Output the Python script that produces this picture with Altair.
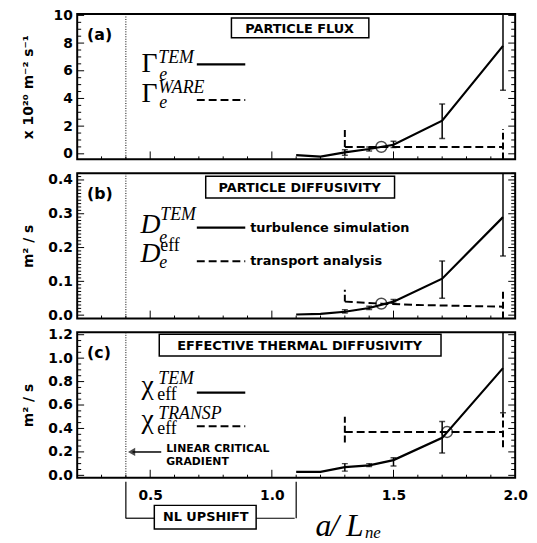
import altair as alt
import pandas as pd

FONT = "DejaVu Sans"
SERIF = "Liberation Serif"
W, H = 443, 147

# ---------------- data ----------------
grad = [1.1, 1.2, 1.3, 1.4, 1.5, 1.7, 1.95]
linear_critical = 0.4
nl_threshold = 1.1

# (a) particle flux, x 1e20 m^-2 s^-1
flux_tem = [-0.1, -0.2, 0.1, 0.35, 0.65, 2.4, 7.8]
flux_err_x = [1.3, 1.4, 1.5, 1.7, 1.95]
flux_err_lo = [-0.1, 0.2, 0.45, 1.1, 4.6]
flux_err_hi = [0.3, 0.5, 0.9, 3.6, 12.0]
flux_ware_x = [1.3, 1.95]
flux_ware = [0.5, 0.5]
flux_bar_x = [1.3, 1.95]
flux_bar_lo = [0.5, -0.4]
flux_bar_hi = [1.8, 1.8]
flux_match = [1.45, 0.5]

# (b) particle diffusivity, m^2/s
diff_tem = [0.002, 0.004, 0.01, 0.021, 0.04, 0.108, 0.29]
diff_err_x = [1.3, 1.4, 1.5, 1.7, 1.95]
diff_err_lo = [0.006, 0.017, 0.035, 0.05, 0.175]
diff_err_hi = [0.016, 0.026, 0.046, 0.16, 0.5]
diff_eff_x = [1.3, 1.45, 1.6, 1.95]
diff_eff = [0.040, 0.034, 0.030, 0.025]
diff_bar_x = [1.3, 1.95]
diff_bar_lo = [0.040, -0.01]
diff_bar_hi = [0.075, 0.075]
diff_match = [1.45, 0.034]

# (c) effective thermal diffusivity, m^2/s
chi_tem = [0.03, 0.03, 0.07, 0.085, 0.13, 0.32, 0.915]
chi_err_x = [1.3, 1.4, 1.5, 1.7, 1.95]
chi_err_lo = [0.036, 0.075, 0.08, 0.19, 0.535]
chi_err_hi = [0.10, 0.10, 0.15, 0.46, 1.5]
chi_transp_x = [1.3, 1.95]
chi_transp = [0.37, 0.37]
chi_bar_x = [1.3, 1.95]
chi_bar_lo = [0.28, 0.24]
chi_bar_hi = [0.50, 0.53]
chi_match = [1.72, 0.37]

x_labels = [0.5, 1.0, 1.5, 2.0]

XS = alt.Scale(domain=[0.2, 2.0], nice=False, zero=False)
ONE = alt.Data(values=[{}])


def txt(s, x, y, size=13, font=FONT, weight="bold", style="normal",
        align="left", baseline="middle"):
    return alt.Chart(ONE).mark_text(
        text=s, fontSize=size, font=font, fontWeight=weight, fontStyle=style,
        align=align, baseline=baseline, color="black"
    ).encode(x=alt.value(x), y=alt.value(y))


def math(s, x, y, size=18, italic=True):
    return txt(s, x, y, size=size, font=SERIF, weight="normal",
               style="italic" if italic else "normal", baseline="alphabetic")


def prule(x, y, x2=None, y2=None, dash=None, width=1.5):
    enc = dict(x=x if not isinstance(x, (int, float)) else alt.value(x),
               y=alt.value(y))
    if x2 is not None:
        enc["x2"] = alt.value(x2)
    if y2 is not None:
        enc["y2"] = alt.value(y2)
    kw = dict(color="black", strokeWidth=width)
    if dash:
        kw["strokeDash"] = dash
    return alt.Chart(ONE).mark_rule(**kw).encode(**enc)


def box(x, x2, y, y2):
    return alt.Chart(ONE).mark_rect(
        fill="white", stroke="black", strokeWidth=1.5
    ).encode(x=alt.value(x), x2=alt.value(x2), y=alt.value(y), y2=alt.value(y2))


def make_xaxis(show):
    if show:
        return alt.Axis(values=x_labels, format=".1f", ticks=False,
                        domain=False, grid=False, labelFlush=False,
                        labelFont=FONT, labelFontSize=14,
                        labelFontWeight="bold", labelColor="black",
                        labelPadding=11, title=None)
    return None


def panel(line_y, ex, elo, ehi, tx, ty, bx, blo, bhi, match, ydom, yvals,
          yfmt, ytitle, minor_step, major_step, show_x, extras):
    ys = alt.Scale(domain=ydom, nice=False, zero=False)
    yaxis = alt.Axis(values=yvals, format=yfmt, ticks=False, domain=False,
                     grid=False, labelFont=FONT, labelFontSize=14,
                     labelFontWeight="bold", labelColor="black", labelPadding=5,
                     title=ytitle, titleFont=FONT, titleFontSize=14,
                     titleFontWeight="bold", titleColor="black",
                     titlePadding=8, minExtent=34, maxExtent=34)
    xaxis = make_xaxis(show_x)

    def X(f):
        return alt.X(f, scale=XS, axis=xaxis)

    def Y(f):
        return alt.Y(f, scale=ys, axis=yaxis)

    layers = []
    layers.append(alt.Chart(pd.DataFrame({"x": grad, "y": line_y})).mark_line(
        color="black", strokeWidth=2.2, clip=True
    ).encode(x=X("x:Q"), y=Y("y:Q")))

    layers.append(alt.Chart(pd.DataFrame({"x": [linear_critical]})).mark_rule(
        color="black", strokeWidth=1, strokeDash=[1, 1.5]
    ).encode(x=X("x:Q"), y=alt.value(0), y2=alt.value(H)))

    n_min = int(round(ydom[1] / minor_step))
    yt = [round(i * minor_step, 6) for i in range(0, n_min + 1)
          if i * minor_step <= ydom[1] + 1e-9]
    maj = [abs((v / major_step) - round(v / major_step)) < 1e-6 for v in yt]
    ytmin = pd.DataFrame({"y": [v for v, m in zip(yt, maj) if not m]})
    ytmaj = pd.DataFrame({"y": [v for v, m in zip(yt, maj) if m]})
    for df, L in ((ytmin, 4), (ytmaj, 7)):
        layers.append(alt.Chart(df).mark_rule(color="black", strokeWidth=1).encode(
            y=Y("y:Q"), x=alt.value(0), x2=alt.value(L)))
        layers.append(alt.Chart(df).mark_rule(color="black", strokeWidth=1).encode(
            y=Y("y:Q"), x=alt.value(W - L), x2=alt.value(W)))
    xt = [round(0.3 + 0.1 * i, 2) for i in range(17)]
    xtmaj = pd.DataFrame({"x": [v for v in xt if v in x_labels]})
    xtmin = pd.DataFrame({"x": [v for v in xt if v not in x_labels]})
    for df, L in ((xtmin, 3), (xtmaj, 8)):
        layers.append(alt.Chart(df).mark_rule(color="black", strokeWidth=1).encode(
            x=X("x:Q"), y=alt.value(H), y2=alt.value(H - L)))

    layers.append(alt.Chart(pd.DataFrame({"x": tx, "y": ty})).mark_line(
        color="black", strokeWidth=2, strokeDash=[8, 4], clip=True
    ).encode(x=X("x:Q"), y=Y("y:Q")))
    layers.append(alt.Chart(pd.DataFrame({"x": bx, "y": blo, "hi": bhi})).mark_rule(
        color="black", strokeWidth=2, strokeDash=[7, 3], clip=True
    ).encode(x=X("x:Q"), y=Y("y:Q"), y2="hi:Q"))

    edf = pd.DataFrame({"x": ex, "y": elo, "hi": ehi})
    layers.append(alt.Chart(edf).mark_rule(color="black", strokeWidth=1.5, clip=True).encode(
        x=X("x:Q"), y=Y("y:Q"), y2="hi:Q"))
    layers.append(alt.Chart(edf).mark_tick(
        color="black", orient="horizontal", size=6, thickness=1.5, clip=True
    ).encode(x=X("x:Q"), y=Y("y:Q")))
    edf2 = pd.DataFrame({"x": ex, "y": ehi})
    layers.append(alt.Chart(edf2).mark_tick(
        color="black", orient="horizontal", size=6, thickness=1.5, clip=True
    ).encode(x=X("x:Q"), y=Y("y:Q")))

    layers.append(alt.Chart(pd.DataFrame({"x": [match[0]], "y": [match[1]]})).mark_point(
        shape="circle", filled=False, size=120, color="black", strokeWidth=1.5
    ).encode(x=X("x:Q"), y=Y("y:Q")))

    layers += extras
    return alt.layer(*layers).properties(width=W, height=H)


XC = make_xaxis(True)

ext_a = [
    txt("(a)", 10, 21, size=16),
    box(156, 295, 4, 24),
    txt("PARTICLE FLUX", 225, 15, size=13, align="center"),
    math("Γ", 65, 59, size=28, italic=False),
    math("TEM", 82, 50),
    math("e", 83, 67),
    prule(121, 51, x2=170, width=2.2),
    math("Γ", 65, 89, size=28, italic=False),
    math("WARE", 82, 80),
    math("e", 83, 95),
    prule(121, 87, x2=170, dash=[8, 4], width=2),
]

ext_b = [
    txt("(b)", 10, 21, size=16),
    box(130, 321, 3, 25),
    txt("PARTICLE DIFFUSIVITY", 225, 15, size=13, align="center"),
    math("D", 64, 60, size=28),
    math("TEM", 84, 47),
    math("e", 83, 71),
    prule(121, 55, x2=170, width=2.2),
    txt("turbulence simulation", 175, 55, size=13),
    math("D", 64, 90, size=28),
    math("eff", 84, 79, italic=False),
    math("e", 83, 96),
    prule(121, 89, x2=170, dash=[8, 4], width=2),
    txt("transport analysis", 175, 89, size=13),
]

ext_c = [
    txt("(c)", 10, 21, size=16),
    box(83, 368, 2, 24),
    txt("EFFECTIVE THERMAL DIFFUSIVITY", 225, 14, size=13, align="center"),
    math("χ", 65, 62, size=28, italic=False),
    math("TEM", 82, 52),
    math("eff", 81, 68, italic=False),
    prule(121, 61, x2=170, width=2.2),
    math("χ", 65, 97, size=28, italic=False),
    math("TRANSP", 82, 88),
    math("eff", 81, 103, italic=False),
    prule(121, 95, x2=170, dash=[8, 4], width=2),
    txt("LINEAR CRITICAL", 90, 118, size=11),
    txt("GRADIENT", 90, 131, size=11),
    prule(85, 121, x2=56, width=1.5),
    alt.Chart(ONE).mark_point(shape="triangle-left", filled=True, size=70,
                              color="black", strokeWidth=0).encode(
        x=alt.value(55), y=alt.value(121)),
    prule(alt.X(datum=linear_critical, scale=XS, axis=XC), 151, y2=188, width=1.2),
    prule(alt.X(datum=nl_threshold, scale=XS, axis=XC), 151, y2=188, width=1.2),
    prule(49, 188, x2=78, width=1.2),
    prule(181, 188, x2=220, width=1.2),
    box(78, 181, 175, 199),
    txt("NL UPSHIFT", 130, 187, size=13, align="center"),
    math("a", 241, 206, size=32),
    math("/", 256, 206, size=32),
    math("L", 272, 206, size=32),
    math("ne", 291, 208, size=17),
]

pa = panel(flux_tem, flux_err_x, flux_err_lo, flux_err_hi, flux_ware_x, flux_ware,
           flux_bar_x, flux_bar_lo, flux_bar_hi, flux_match, [-0.4, 10.1],
           [0, 2, 4, 6, 8, 10], "d", "x 10²⁰ m⁻² s⁻¹", 0.5, 2, False, ext_a)
pb = panel(diff_tem, diff_err_x, diff_err_lo, diff_err_hi, diff_eff_x, diff_eff,
           diff_bar_x, diff_bar_lo, diff_bar_hi, diff_match, [-0.01, 0.42],
           [0.0, 0.1, 0.2, 0.3, 0.4], ".1f", "m² / s", 0.01, 0.1, False, ext_b)
pc = panel(chi_tem, chi_err_x, chi_err_lo, chi_err_hi, chi_transp_x, chi_transp,
           chi_bar_x, chi_bar_lo, chi_bar_hi, chi_match, [-0.02, 1.22],
           [0.0, 0.2, 0.4, 0.6, 0.8, 1.0, 1.2], ".1f", "m² / s", 0.05, 0.2, True, ext_c)

chart = alt.vconcat(pa, pb, pc, spacing=14, bounds="flush").properties(
    padding={"left": 13, "top": -4, "right": 0, "bottom": 0},
    background="white"
).configure_view(stroke="black", strokeWidth=2)

chart.save("out.html", embed_options={"renderer": "svg", "actions": False})
